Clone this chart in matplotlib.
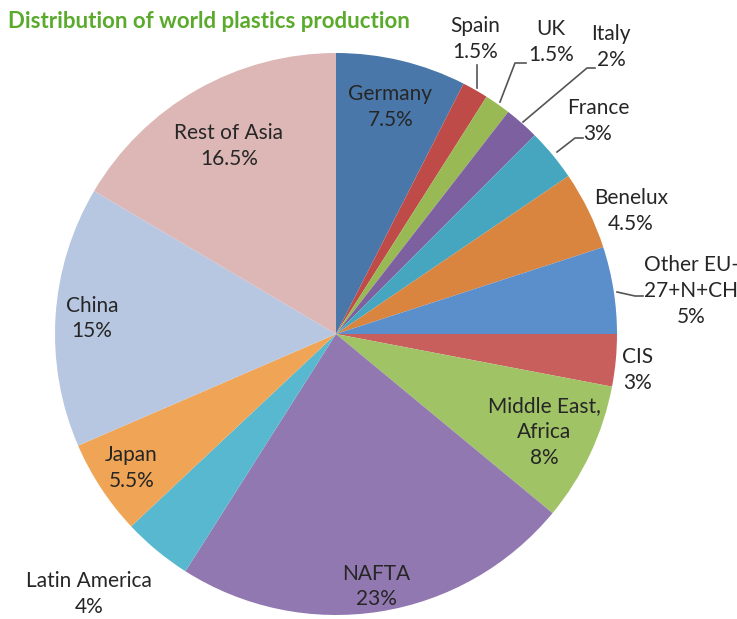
import numpy as np
import matplotlib.pyplot as plt

plt.rcParams['font.family'] = ['Lato', 'DejaVu Sans']

regions = ["Germany", "Spain", "UK", "Italy", "France", "Benelux",
           "Other EU-\n27+N+CH", "CIS", "Middle East,\nAfrica", "NAFTA",
           "Latin America", "Japan", "China", "Rest of Asia"]
shares = [7.5, 1.5, 1.5, 2, 3, 4.5, 5, 3, 8, 23, 4, 5.5, 15, 16.5]
pct_labels = ["7.5%", "1.5%", "1.5%", "2%", "3%", "4.5%", "5%", "3%",
              "8%", "23%", "4%", "5.5%", "15%", "16.5%"]
colors = ["#4a77a9", "#be4b48", "#98b954", "#7d60a0", "#46a6bf", "#d9853f",
          "#5b8fcb", "#c95f5d", "#a0c366", "#9278b0", "#58b8cf", "#f0a556",
          "#b8c7e1", "#dcb7b5"]

W, H = 737, 619
cx, cy, R = 336, 334, 281


def px(x, y):
    return (x - cx) / R, (cy - y) / R


# outside labels: text centre and leader line (pixel positions of the picture)
outside = {
    "Spain": ((475, 39), [(477, 88), (477, 65)]),
    "UK": ((551, 42), [(500, 102), (515, 63), (526, 63)]),
    "Italy": ((611, 47), [(523, 122), (587, 68), (595, 68)]),
    "France": ((598, 121), [(557, 152), (575, 138), (583, 138)]),
    "Benelux": ((631, 211), None),
    "Other EU-\n27+N+CH": ((691, 291), [(617, 292), (635, 296), (643, 296)]),
    "CIS": ((638, 370), None),
    "Latin America": ((89, 594), None),
}
inside_r = {"Germany": 0.83, "Middle East,\nAfrica": 0.82, "NAFTA": 0.91,
            "Japan": 0.87, "China": 0.87, "Rest of Asia": 0.77}

fig = plt.figure(figsize=(W / 100, H / 100), dpi=100)
ax = fig.add_axes([(cx - R) / W, (H - cy - R) / H, 2 * R / W, 2 * R / H])
wedges, _ = ax.pie(shares, colors=colors, startangle=90, counterclock=False,
                   radius=1, wedgeprops=dict(linewidth=0))
ax.set_xlim(-1, 1)
ax.set_ylim(-1, 1)
ax.set_aspect('equal')
ax.axis('off')

fs = 15
ls = 1.35
for w, name, p in zip(wedges, regions, pct_labels):
    text = name + "\n" + p
    if name in outside:
        pos, line = outside[name]
        tx, ty = px(*pos)
        ax.text(tx, ty, text, ha='center', va='center', fontsize=fs,
                color='#262626', linespacing=ls, clip_on=False)
        if line is not None:
            pts = np.array([px(*q) for q in line])
            ax.plot(pts[:, 0], pts[:, 1], color='#555555', lw=1.2, clip_on=False)
    else:
        ang = np.deg2rad((w.theta1 + w.theta2) / 2)
        r = inside_r[name]
        ax.text(r * np.cos(ang), r * np.sin(ang), text, ha='center', va='center',
                fontsize=fs, color='#262626', linespacing=ls)

fig.text(8 / W, 1 - 21 / H, "Distribution of world plastics production",
         fontsize=16, fontweight='bold', color='#5aaa2c', ha='left', va='center')

fig.savefig("out.png", dpi=100)
